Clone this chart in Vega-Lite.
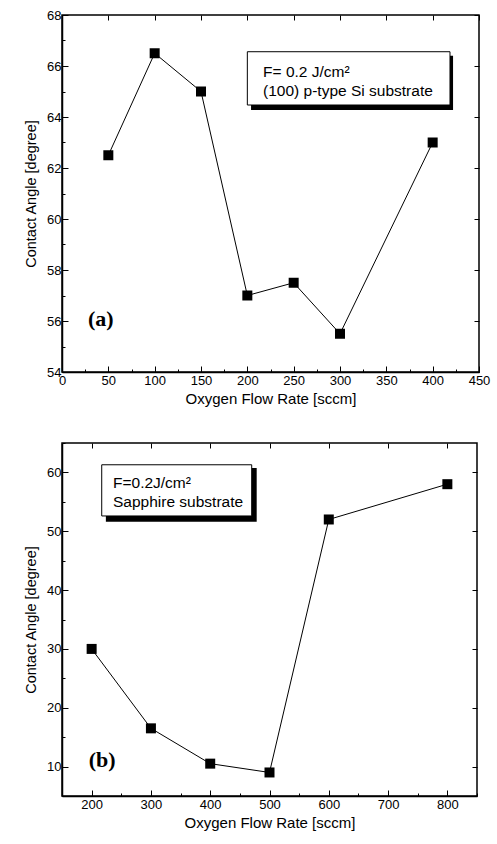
{
  "$schema": "https://vega.github.io/schema/vega-lite/v6.json",
  "background": "white",
  "padding": {"left": 22, "top": 8, "right": 10, "bottom": 5},
  "spacing": 34,
  "config": {
    "font": "Liberation Sans",
    "view": {"stroke": "black", "strokeWidth": 1.5},
    "axis": {
      "labelFont": "Liberation Sans",
      "labelFontSize": 13,
      "labelColor": "black",
      "titleFont": "Liberation Sans",
      "titleFontSize": 15,
      "titleFontWeight": "normal",
      "titleColor": "black",
      "domainColor": "black",
      "domainWidth": 1.5,
      "tickColor": "black",
      "grid": false,
      "labelPadding": 6
    }
  },
  "vconcat": [
    {
      "width": 417,
      "height": 357,
      "data": {"values": [
        {"flow": 50, "angle": 62.5},
        {"flow": 100, "angle": 66.5},
        {"flow": 150, "angle": 65},
        {"flow": 200, "angle": 57},
        {"flow": 250, "angle": 57.5},
        {"flow": 300, "angle": 55.5},
        {"flow": 400, "angle": 63}
      ]},
      "resolve": {"axis": {"x": "independent", "y": "independent"}},
      "layer": [
        {"mark": {"type": "line", "color": "black", "strokeWidth": 1},
          "encoding": {
            "x": {"field": "flow", "type": "quantitative",
              "scale": {"domain": [0, 450], "nice": false, "zero": false},
              "axis": {"title": "Oxygen Flow Rate [sccm]", "values": [0,25,50,75,100,125,150,175,200,225,250,275,300,325,350,375,400,425,450],
                "labelExpr": "datum.value % 50 === 0 ? datum.label : ''",
                "tickSize": {"condition": {"test": "datum.value % 50 === 0", "value": -6}, "value": -3}, "labelFlush": false, "labelPadding": 8, "titlePadding": 4}},
            "y": {"field": "angle", "type": "quantitative",
              "scale": {"domain": [54, 68], "nice": false, "zero": false},
              "axis": {"title": "Contact Angle [degree]", "titleFontSize": 14.5, "values": [54,55,56,57,58,59,60,61,62,63,64,65,66,67,68],
                "labelExpr": "datum.value % 2 === 0 ? datum.label : ''",
                "tickSize": {"condition": {"test": "datum.value % 2 === 0", "value": -6}, "value": -3}, "labelFlush": false, "labelPadding": 7, "titlePadding": 8}}
          }},
        {"mark": {"type": "square", "filled": true, "color": "black", "size": 100, "opacity": 1},
          "encoding": {
            "x": {"field": "flow", "type": "quantitative",
              "scale": {"domain": [0, 450], "nice": false, "zero": false},
              "axis": {"orient": "top", "title": null, "labels": false, "domain": false, "values": [0,50,100,150,200,250,300,350,400,450], "tickSize": -5}},
            "y": {"field": "angle", "type": "quantitative",
              "scale": {"domain": [54, 68], "nice": false, "zero": false},
              "axis": {"orient": "right", "title": null, "labels": false, "domain": false, "values": [54,56,58,60,62,64,66,68], "tickSize": -5}}
          }},
        {"transform": [{"filter": "datum.flow === 50"}], "mark": {"type": "rect", "fill": "black"},
          "encoding": {"x": {"datum": 204, "axis": null}, "x2": {"datum": 422}, "y": {"datum": 66.4, "axis": null}, "y2": {"datum": 64.27}}},
        {"transform": [{"filter": "datum.flow === 50"}], "mark": {"type": "rect", "fill": "white", "stroke": "black", "strokeWidth": 1},
          "encoding": {"x": {"datum": 200, "axis": null}, "x2": {"datum": 418.7}, "y": {"datum": 66.56, "axis": null}, "y2": {"datum": 64.47}}},
        {"transform": [{"filter": "datum.flow === 50"}], "mark": {"type": "text", "align": "left", "baseline": "alphabetic", "fontSize": 15.5, "font": "Liberation Sans", "color": "black"},
          "encoding": {"x": {"datum": 217, "axis": null}, "y": {"datum": 65.57, "axis": null}, "text": {"value": "F= 0.2 J/cm²"}}},
        {"transform": [{"filter": "datum.flow === 50"}], "mark": {"type": "text", "align": "left", "baseline": "alphabetic", "fontSize": 15.5, "font": "Liberation Sans", "color": "black"},
          "encoding": {"x": {"datum": 217, "axis": null}, "y": {"datum": 64.82, "axis": null}, "text": {"value": "(100) p-type Si substrate"}}},
        {"transform": [{"filter": "datum.flow === 50"}], "mark": {"type": "text", "align": "left", "baseline": "alphabetic", "fontSize": 22, "font": "Liberation Serif", "fontWeight": "bold", "color": "black"},
          "encoding": {"x": {"datum": 28, "axis": null}, "y": {"datum": 55.8, "axis": null}, "text": {"value": "(a)"}}}
      ]
    },
    {
      "width": 415,
      "height": 353,
      "data": {"values": [
        {"flow": 200, "angle": 30},
        {"flow": 300, "angle": 16.5},
        {"flow": 400, "angle": 10.5},
        {"flow": 500, "angle": 9},
        {"flow": 600, "angle": 52},
        {"flow": 800, "angle": 58}
      ]},
      "resolve": {"axis": {"x": "independent", "y": "independent"}},
      "layer": [
        {"mark": {"type": "line", "color": "black", "strokeWidth": 1},
          "encoding": {
            "x": {"field": "flow", "type": "quantitative",
              "scale": {"domain": [150, 850], "nice": false, "zero": false},
              "axis": {"title": "Oxygen Flow Rate [sccm]", "values": [150,200,250,300,350,400,450,500,550,600,650,700,750,800,850],
                "labelExpr": "datum.value % 100 === 0 ? datum.label : ''",
                "tickSize": {"condition": {"test": "datum.value % 100 === 0", "value": -6}, "value": -3}, "labelFlush": false, "labelPadding": 8, "titlePadding": 4}},
            "y": {"field": "angle", "type": "quantitative",
              "scale": {"domain": [5, 65], "nice": false, "zero": false},
              "axis": {"title": "Contact Angle [degree]", "titleFontSize": 14.5, "values": [5,10,15,20,25,30,35,40,45,50,55,60,65],
                "labelExpr": "datum.value % 10 === 0 ? datum.label : ''",
                "tickSize": {"condition": {"test": "datum.value % 10 === 0", "value": -6}, "value": -3}, "labelFlush": false, "labelPadding": 7, "titlePadding": 8}}
          }},
        {"mark": {"type": "square", "filled": true, "color": "black", "size": 100, "opacity": 1},
          "encoding": {
            "x": {"field": "flow", "type": "quantitative",
              "scale": {"domain": [150, 850], "nice": false, "zero": false},
              "axis": {"orient": "top", "title": null, "labels": false, "domain": false, "values": [200,300,400,500,600,700,800], "tickSize": -5}},
            "y": {"field": "angle", "type": "quantitative",
              "scale": {"domain": [5, 65], "nice": false, "zero": false},
              "axis": {"orient": "right", "title": null, "labels": false, "domain": false, "values": [10,20,30,40,50,60], "tickSize": -5}}
          }},
        {"transform": [{"filter": "datum.flow === 200"}], "mark": {"type": "rect", "fill": "black"},
          "encoding": {"x": {"datum": 224, "axis": null}, "x2": {"datum": 478.4}, "y": {"datum": 60.75, "axis": null}, "y2": {"datum": 51.6}}},
        {"transform": [{"filter": "datum.flow === 200"}], "mark": {"type": "rect", "fill": "white", "stroke": "black", "strokeWidth": 1},
          "encoding": {"x": {"datum": 217, "axis": null}, "x2": {"datum": 470}, "y": {"datum": 61.3, "axis": null}, "y2": {"datum": 52.6}}},
        {"transform": [{"filter": "datum.flow === 200"}], "mark": {"type": "text", "align": "left", "baseline": "alphabetic", "fontSize": 15.5, "font": "Liberation Sans", "color": "black"},
          "encoding": {"x": {"datum": 236, "axis": null}, "y": {"datum": 57.35, "axis": null}, "text": {"value": "F=0.2J/cm²"}}},
        {"transform": [{"filter": "datum.flow === 200"}], "mark": {"type": "text", "align": "left", "baseline": "alphabetic", "fontSize": 15.5, "font": "Liberation Sans", "color": "black"},
          "encoding": {"x": {"datum": 236, "axis": null}, "y": {"datum": 54.1, "axis": null}, "text": {"value": "Sapphire substrate"}}},
        {"transform": [{"filter": "datum.flow === 200"}], "mark": {"type": "text", "align": "left", "baseline": "alphabetic", "fontSize": 22, "font": "Liberation Serif", "fontWeight": "bold", "color": "black"},
          "encoding": {"x": {"datum": 195, "axis": null}, "y": {"datum": 9.9, "axis": null}, "text": {"value": "(b)"}}}
      ]
    }
  ]
}
